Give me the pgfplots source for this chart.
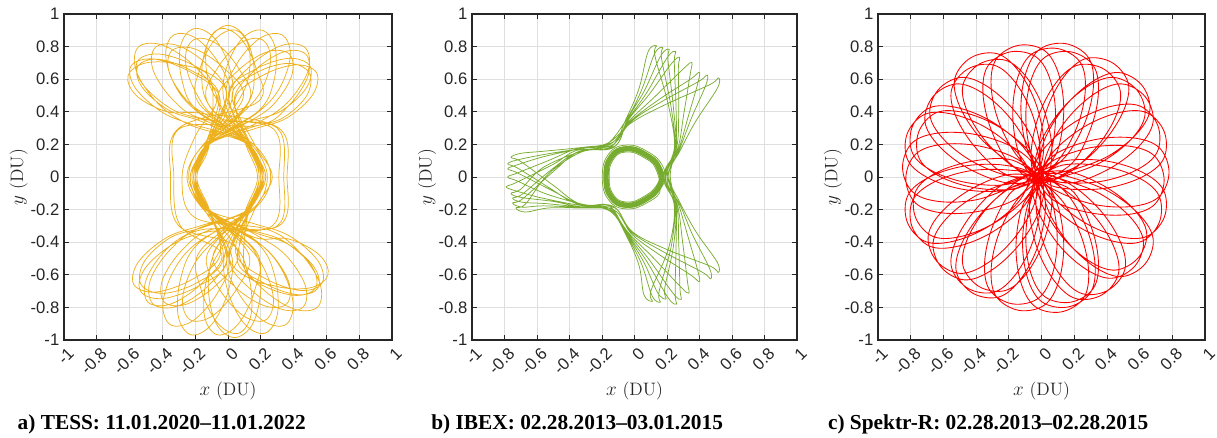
\documentclass[border=0pt]{standalone}
\usepackage{fontspec}
\usepackage{pgfplots}
\pgfplotsset{compat=1.18}
\newfontfamily\tickfont{Liberation Sans}
\newfontfamily\capfont{Liberation Serif}
\definecolor{axgray}{HTML}{262626}
\definecolor{gridgray}{HTML}{DFDFDF}
\definecolor{tessc}{HTML}{EDB120}
\definecolor{ibexc}{HTML}{77AC30}
\definecolor{spekc}{HTML}{FF0000}
\pgfplotsset{
  orbitaxis/.style={
    scale only axis, width=246pt, height=244.5pt,
    xmin=-1, xmax=1, ymin=-1, ymax=1,
    xtick={-1,-0.8,-0.6,-0.4,-0.2,0,0.2,0.4,0.6,0.8,1},
    ytick={-1,-0.8,-0.6,-0.4,-0.2,0,0.2,0.4,0.6,0.8,1},
    xticklabels={-1,-0.8,-0.6,-0.4,-0.2,0,0.2,0.4,0.6,0.8,1},
    yticklabels={-1,-0.8,-0.6,-0.4,-0.2,0,0.2,0.4,0.6,0.8,1},
    grid=major, major grid style={gridgray, line width=0.5pt},
    axis line style={axgray, line width=0.8pt},
    major tick style={axgray, line width=0.6pt},
    major tick length=3.5pt, tick align=inside,
    tick label style={font=\fontsize{12.5}{15}\selectfont\tickfont, text=axgray},
    xticklabel style={xshift=2.2pt, rotate=45, anchor=north east},
    label style={font=\fontsize{13.5}{16}\selectfont, text=axgray},
    xlabel={$x$ (DU)}, ylabel={$y$ (DU)},
    xlabel style={at={(axis description cs:0.5,-0.155)}, anchor=center},
    ylabel style={at={(axis description cs:-0.138,0.5)}, anchor=center},
  },
  orbit/.style={line width=0.55pt, smooth, tension=0.6}
}
\begin{document}
\begin{tikzpicture}
\path[use as bounding box] (0,0) rectangle (912.75pt,-328.5pt);
% ---------------- a) TESS
\begin{axis}[orbitaxis, at={(48pt,-255pt)}, anchor=south west]
\addplot[tessc, orbit] coordinates {
(-0.156,0.306) (-0.381,0.385) (-0.561,0.540) (-0.592,0.680) (-0.455,0.724) (-0.231,0.645) (-0.050,0.490)
(-0.12,0.2) (-0.2,0) (-0.12,-0.2)
(0.154,-0.285) (0.372,-0.360) (0.547,-0.512) (0.574,-0.650) (0.441,-0.696) (0.222,-0.620) (0.048,-0.469)
(0.126,-0.2) (0.21,0) (0.126,0.2)
(0.043,0.476) (0.205,0.620) (0.410,0.688) (0.540,0.640) (0.516,0.504) (0.355,0.360) (0.149,0.292)
(-0.114,0.2) (-0.19,0) (-0.114,-0.2)
(-0.048,-0.479) (-0.222,-0.630) (-0.441,-0.706) (-0.574,-0.660) (-0.547,-0.522) (-0.372,-0.370) (-0.154,-0.295)
(0.144,-0.2) (0.24,0) (0.144,0.2)
(-0.057,0.337) (-0.238,0.456) (-0.357,0.637) (-0.344,0.774) (-0.207,0.787) (-0.026,0.668) (0.093,0.487)
(-0.132,0.2) (-0.22,0) (-0.132,-0.2)
(0.059,-0.329) (0.245,-0.453) (0.369,-0.639) (0.358,-0.778) (0.219,-0.789) (0.033,-0.665) (-0.091,-0.479)
(0.12,-0.2) (0.2,0) (0.12,0.2)
(-0.063,0.467) (0.056,0.648) (0.237,0.767) (0.374,0.754) (0.387,0.617) (0.268,0.436) (0.087,0.317)
(-0.126,0.2) (-0.21,0) (-0.126,-0.2)
(0.061,-0.469) (-0.063,-0.655) (-0.249,-0.779) (-0.388,-0.768) (-0.399,-0.629) (-0.275,-0.443) (-0.089,-0.319)
(0.3,-0.3) (0.34,0) (0.3,0.3)
(-0.055,0.361) (-0.195,0.516) (-0.260,0.716) (-0.210,0.842) (-0.076,0.822) (0.065,0.666) (0.129,0.467)
(-0.15,0.2) (-0.25,0) (-0.15,-0.2)
(0.058,-0.366) (0.205,-0.533) (0.277,-0.745) (0.23,-0.877) (0.093,-0.851) (-0.055,-0.683) (-0.126,-0.472)
(0.114,-0.2) (0.19,0) (0.114,0.2)
(-0.129,0.467) (-0.065,0.666) (0.076,0.822) (0.21,0.842) (0.260,0.716) (0.195,0.516) (0.055,0.361)
(-0.12,0.2) (-0.2,0) (-0.12,-0.2)
(0.126,-0.472) (0.055,-0.683) (-0.093,-0.851) (-0.23,-0.877) (-0.277,-0.745) (-0.205,-0.533) (-0.058,-0.366)
(0.132,-0.2) (0.22,0) (0.132,0.2)
(-0.024,0.405) (-0.120,0.591) (-0.130,0.801) (-0.050,0.910) (0.074,0.855) (0.170,0.669) (0.180,0.459)
(-0.3,0.3) (-0.35,0) (-0.3,-0.3)
(0.026,-0.412) (0.127,-0.615) (0.141,-0.843) (0.063,-0.959) (-0.063,-0.897) (-0.163,-0.693) (-0.178,-0.466)
(0.12,-0.2) (0.2,0) (0.12,0.2)
(-0.181,0.457) (-0.171,0.664) (-0.076,0.847) (0.048,0.901) (0.128,0.793) (0.119,0.586) (0.023,0.403)
(-0.114,0.2) (-0.19,0) (-0.114,-0.2)
(0.178,-0.467) (0.162,-0.698) (0.060,-0.905) (-0.066,-0.968) (-0.144,-0.851) (-0.128,-0.620) (-0.026,-0.413)
(0.126,-0.2) (0.21,0) (0.126,0.2)
(-0.113,0.435) (-0.16,0.64) (-0.113,0.845) (0.0,0.93) (0.113,0.845) (0.16,0.64) (0.113,0.435)
(-0.126,0.2) (-0.21,0) (-0.126,-0.2)
(0.153,-0.443) (0.2,-0.67) (0.153,-0.897) (0.04,-0.985) (-0.073,-0.897) (-0.12,-0.67) (-0.073,-0.443)
(0.114,-0.2) (0.19,0) (0.114,0.2)
(-0.156,0.338) (-0.360,0.409) (-0.523,0.550) (-0.550,0.680) (-0.423,0.722) (-0.220,0.651) (-0.056,0.510)
(-0.138,0.2) (-0.23,0) (-0.138,-0.2)
(0.156,-0.338) (0.360,-0.409) (0.523,-0.550) (0.550,-0.680) (0.423,-0.722) (0.220,-0.651) (0.056,-0.510)
(0.162,-0.2) (0.27,0) (0.162,0.2)
(0.024,0.499) (0.172,0.639) (0.367,0.697) (0.495,0.640) (0.481,0.501) (0.332,0.361) (0.138,0.303)
(-0.12,0.2) (-0.2,0) (-0.12,-0.2)
(-0.029,-0.502) (-0.190,-0.649) (-0.396,-0.714) (-0.530,-0.660) (-0.510,-0.518) (-0.350,-0.371) (-0.143,-0.306)
(0.12,-0.2) (0.2,0) (0.12,0.2)
(-0.228,0.318) (-0.426,0.450) (-0.559,0.649) (-0.547,0.797) (-0.399,0.809) (-0.200,0.676) (-0.068,0.478)
(-0.2,0.25) (-0.28,0) (-0.2,-0.25)
(0.228,-0.318) (0.426,-0.450) (0.559,-0.649) (0.547,-0.797) (0.399,-0.809) (0.200,-0.676) (0.068,-0.478)
(0.132,-0.2) (0.22,0) (0.132,0.2)
(0.006,0.486) (0.133,0.679) (0.327,0.807) (0.472,0.792) (0.487,0.647) (0.359,0.453) (0.166,0.326)
(-0.126,0.2) (-0.21,0) (-0.126,-0.2)
(-0.004,-0.484) (-0.126,-0.672) (-0.314,-0.794) (-0.458,-0.778) (-0.474,-0.634) (-0.352,-0.446) (-0.164,-0.324)
(0.31,-0.3) (0.36,0) (0.31,0.3)
(-0.159,0.390) (-0.369,0.400) (-0.555,0.496) (-0.610,0.620) (-0.501,0.700) (-0.291,0.690) (-0.105,0.594)
(-0.114,0.2) (-0.19,0) (-0.114,-0.2)
(0.159,-0.370) (0.369,-0.380) (0.555,-0.476) (0.610,-0.600) (0.501,-0.680) (0.291,-0.670) (0.105,-0.574)
(0.126,-0.2) (0.21,0) (0.126,0.2)
(-0.116,0.336) (-0.341,0.415) (-0.521,0.570) (-0.552,0.710) (-0.415,0.754) (-0.191,0.675) (-0.010,0.520)
(-0.138,0.2) (-0.23,0) (-0.138,-0.2)
(0.114,-0.315) (0.332,-0.390) (0.507,-0.542) (0.534,-0.680) (0.401,-0.726) (0.182,-0.650) (0.008,-0.499)
(0.108,-0.2) (0.18,0) (0.108,0.2)
(0.003,0.516) (0.165,0.660) (0.370,0.728) (0.500,0.680) (0.476,0.544) (0.315,0.400) (0.109,0.332)
(-0.12,0.2) (-0.2,0) (-0.12,-0.2)
(-0.008,-0.519) (-0.182,-0.670) (-0.401,-0.746) (-0.534,-0.700) (-0.507,-0.562) (-0.332,-0.410) (-0.114,-0.335)
(0.27,-0.3) (0.31,0) (0.27,0.3)
(-0.157,0.357) (-0.338,0.476) (-0.457,0.657) (-0.444,0.794) (-0.307,0.807) (-0.126,0.688) (-0.007,0.507)
(-0.114,0.2) (-0.19,0) (-0.114,-0.2)
(0.159,-0.349) (0.345,-0.473) (0.469,-0.659) (0.458,-0.798) (0.319,-0.809) (0.133,-0.685) (0.009,-0.499)
(0.138,-0.2) (0.23,0) (0.138,0.2)
(0.037,0.467) (0.156,0.648) (0.337,0.767) (0.474,0.754) (0.487,0.617) (0.368,0.436) (0.187,0.317)
(-0.29,0.3) (-0.33,0) (-0.29,-0.3)
(-0.039,-0.469) (-0.163,-0.655) (-0.349,-0.779) (-0.488,-0.768) (-0.499,-0.629) (-0.375,-0.443) (-0.189,-0.319)
(0.12,-0.2) (0.2,0) (0.12,0.2)
(-0.175,0.391) (-0.315,0.546) (-0.380,0.746) (-0.330,0.872) (-0.196,0.852) (-0.055,0.696) (0.009,0.497)
(-0.126,0.2) (-0.21,0) (-0.126,-0.2)
(0.178,-0.396) (0.325,-0.563) (0.397,-0.775) (0.35,-0.907) (0.213,-0.881) (0.065,-0.713) (-0.006,-0.502)
(0.132,-0.2) (0.22,0) (0.132,0.2)
(-0.009,0.497) (0.055,0.696) (0.196,0.852) (0.33,0.872) (0.380,0.746) (0.315,0.546) (0.175,0.391)
(-0.12,0.2) (-0.2,0) (-0.12,-0.2)
(0.006,-0.502) (-0.065,-0.713) (-0.213,-0.881) (-0.35,-0.907) (-0.397,-0.775) (-0.325,-0.563) (-0.178,-0.396)
(0.156,-0.2) (0.26,0) (0.156,0.2)
(-0.184,0.405) (-0.280,0.591) (-0.290,0.801) (-0.210,0.910) (-0.086,0.855) (0.010,0.669) (0.020,0.459)
(-0.12,0.2) (-0.2,0) (-0.12,-0.2)
(0.186,-0.412) (0.287,-0.615) (0.301,-0.843) (0.223,-0.959) (0.097,-0.897) (-0.003,-0.693) (-0.018,-0.466)
(0.114,-0.2) (0.19,0) (0.114,0.2)
(-0.021,0.457) (-0.011,0.664) (0.084,0.847) (0.208,0.901) (0.288,0.793) (0.279,0.586) (0.183,0.403)
(-0.144,0.2) (-0.24,0) (-0.144,-0.2)
(0.018,-0.467) (0.002,-0.698) (-0.100,-0.905) (-0.226,-0.968) (-0.304,-0.851) (-0.288,-0.620) (-0.186,-0.413)
(0.126,-0.2) (0.21,0) (0.126,0.2)
(-0.156,0.306)
};
\end{axis}
% ---------------- b) IBEX
\begin{axis}[orbitaxis, at={(354pt,-255pt)}, anchor=south west, width=243.75pt]
\addplot[ibexc, line width=4pt, smooth, tension=0.6] coordinates {
(0.169,0) (0.134,0.086) (0.065,0.139) (-0.015,0.172) (-0.107,0.159) (-0.164,0.086) (-0.175,0) (-0.164,-0.086) (-0.107,-0.159) (-0.015,-0.172) (0.065,-0.139) (0.134,-0.086) (0.169,0) (0.134,0.086)
};
\addplot[ibexc, orbit] coordinates {
(0.149,0) (0.117,0.076) (0.055,0.121) (-0.015,0.152) (-0.097,0.142) (-0.147,0.076) (-0.155,0) (-0.147,-0.076) (-0.097,-0.142) (-0.015,-0.152) (0.055,-0.121) (0.117,-0.076)
(0.160,0.004) (0.126,0.082) (0.060,0.130) (-0.015,0.162) (-0.102,0.150) (-0.156,0.081) (-0.165,0) (-0.156,-0.081) (-0.102,-0.150) (-0.015,-0.162) (0.060,-0.130) (0.126,-0.081)
(0.180,0) (0.144,0.092) (0.071,0.148) (-0.015,0.184) (-0.113,0.170) (-0.174,0.092) (-0.187,0) (-0.174,-0.092) (-0.113,-0.170) (-0.015,-0.184) (0.071,-0.148) (0.144,-0.092)
(0.192,0) (0.154,0.098) (0.077,0.158) (-0.015,0.195) (-0.119,0.179) (-0.184,0.098) (-0.198,0) (-0.184,-0.098) (-0.119,-0.179) (-0.015,-0.195) (0.077,-0.158) (0.154,-0.098)
(0.149,0)
};
\addplot[ibexc, orbit] coordinates {
(-0.14,-0.19)
(-0.33,-0.19) (-0.53,-0.19) (-0.67,-0.215) (-0.73,-0.19) (-0.67,-0.165) (-0.53,0.019) (-0.33,0.152)
(-0.14,0.19)
(-0.051,0.359) (0.028,0.544) (0.083,0.767) (0.135,0.805) (0.126,0.742) (0.209,0.439) (0.246,0.187)
(0.19,0)
(0.246,-0.187) (0.209,-0.439) (0.101,-0.698) (0.110,-0.762) (0.058,-0.723) (0.028,-0.544) (-0.051,-0.359)
(-0.15,-0.21)
(-0.35,-0.159) (-0.50,-0.051) (-0.70,0.095) (-0.76,0.12) (-0.70,0.145) (-0.56,0.158) (-0.31,0.183)
(-0.16,0.21)
(-0.013,0.337) (0.196,0.447) (0.466,0.568) (0.517,0.608) (0.509,0.543) (0.377,0.342) (0.283,0.166)
(0.21,0.01)
(0.284,-0.165) (0.381,-0.340) (0.508,-0.521) (0.516,-0.585) (0.464,-0.546) (0.200,-0.445) (-0.012,-0.337)
(-0.13,-0.18)
(-0.31,-0.177) (-0.56,-0.131) (-0.73,-0.085) (-0.79,-0.06) (-0.73,-0.035) (-0.50,0.078) (-0.35,0.165)
(-0.13,0.18)
(-0.037,0.351) (0.091,0.508) (0.227,0.695) (0.278,0.734) (0.270,0.670) (0.272,0.403) (0.259,0.179)
(0.18,-0.01)
(0.259,-0.179) (0.272,-0.403) (0.280,-0.688) (0.288,-0.751) (0.237,-0.713) (0.091,-0.508) (-0.037,-0.351)
(-0.16,-0.20)
(-0.34,-0.166) (-0.51,-0.082) (-0.72,0.025) (-0.78,0.05) (-0.72,0.075) (-0.55,0.127) (-0.32,0.176)
(-0.15,0.20)
(-0.024,0.343) (0.149,0.474) (0.347,0.602) (0.398,0.642) (0.390,0.577) (0.330,0.369) (0.272,0.172)
(0.20,0.02)
(0.272,-0.172) (0.330,-0.369) (0.390,-0.577) (0.398,-0.642) (0.347,-0.602) (0.149,-0.474) (-0.024,-0.343)
(-0.12,-0.19)
(-0.32,-0.184) (-0.55,-0.163) (-0.69,-0.155) (-0.75,-0.13) (-0.69,-0.105) (-0.51,0.046) (-0.34,0.158)
(-0.12,0.19)
(-0.044,0.355) (0.059,0.526) (0.162,0.744) (0.214,0.783) (0.206,0.719) (0.240,0.421) (0.252,0.183)
(0.19,-0.02)
(0.252,-0.183) (0.240,-0.421) (0.186,-0.684) (0.194,-0.748) (0.142,-0.709) (0.059,-0.526) (-0.044,-0.355)
(-0.14,-0.21)
(-0.36,-0.163) (-0.52,-0.069) (-0.72,0.055) (-0.78,0.08) (-0.72,0.105) (-0.54,0.141) (-0.30,0.179)
(-0.17,0.20)
(-0.047,0.357) (0.044,0.535) (0.123,0.755) (0.174,0.794) (0.166,0.730) (0.225,0.430) (0.249,0.185)
(0.21,0)
(0.249,-0.185) (0.225,-0.430) (0.151,-0.704) (0.159,-0.768) (0.108,-0.729) (0.044,-0.535) (-0.047,-0.357)
(-0.15,-0.18)
(-0.30,-0.171) (-0.54,-0.105) (-0.72,-0.025) (-0.78,0) (-0.72,0.025) (-0.52,0.105) (-0.36,0.171)
(-0.14,0.21)
(-0.030,0.347) (0.122,0.490) (0.301,0.664) (0.353,0.703) (0.344,0.638) (0.303,0.385) (0.266,0.175)
(0.18,0.01)
(0.278,-0.168) (0.357,-0.354) (0.461,-0.559) (0.469,-0.624) (0.417,-0.584) (0.176,-0.458) (-0.018,-0.340)
(-0.13,-0.20)
(-0.345,-0.181) (-0.50,-0.150) (-0.70,-0.125) (-0.76,-0.10) (-0.70,-0.075) (-0.56,0.060) (-0.315,0.161)
(-0.15,0.18)
(-0.019,0.341) (0.168,0.463) (0.395,0.586) (0.447,0.625) (0.438,0.561) (0.349,0.358) (0.277,0.169)
(0.20,-0.01)
(0.265,-0.176) (0.295,-0.390) (0.327,-0.649) (0.335,-0.713) (0.284,-0.674) (0.114,-0.494) (-0.032,-0.348)
(-0.16,-0.19)
(-0.315,-0.187) (-0.56,-0.177) (-0.69,-0.185) (-0.75,-0.16) (-0.69,-0.135) (-0.50,0.033) (-0.345,0.155)
(-0.13,0.20)
(-0.040,0.353) (0.075,0.517) (0.202,0.733) (0.254,0.771) (0.245,0.708) (0.256,0.412) (0.256,0.181)
(0.22,0.01)
(0.256,-0.181) (0.256,-0.412) (0.250,-0.716) (0.259,-0.780) (0.207,-0.741) (0.075,-0.517) (-0.040,-0.353)
(-0.14,-0.19)
};
\end{axis}
% ---------------- c) Spektr-R
\begin{axis}[orbitaxis, at={(658.5pt,-255pt)}, anchor=south west, width=245.25pt]
\addplot[spekc, orbit, line width=0.65pt] coordinates {
(-0.02,0.03) (0.10,0.15) (0.33,0.23) (0.56,0.24) (0.72,0.18) (0.78,0.03) (0.72,-0.12) (0.56,-0.18) (0.33,-0.17) (0.10,-0.09)
(0,0) (0.072,0.154) (0.261,0.308) (0.473,0.395) (0.645,0.394) (0.752,0.274) (0.747,0.112) (0.617,0.001) (0.397,-0.068) (0.154,-0.072)
(0.02,-0.02) (0.035,0.149) (0.159,0.358) (0.329,0.514) (0.491,0.571) (0.633,0.494) (0.683,0.341) (0.599,0.192) (0.417,0.052) (0.189,-0.035)
(0.03,0.01) (-0.014,0.174) (0.032,0.413) (0.138,0.617) (0.270,0.726) (0.43,0.703) (0.53,0.576) (0.502,0.407) (0.378,0.213) (0.194,0.054)
(0.01,0.03) (-0.087,0.169) (-0.126,0.410) (-0.096,0.638) (-0.009,0.785) (0.149,0.818) (0.287,0.733) (0.318,0.564) (0.268,0.340) (0.149,0.127)
(0,0.02) (0.097,0.159) (0.136,0.400) (0.106,0.628) (0.019,0.775) (-0.139,0.808) (-0.277,0.723) (-0.308,0.554) (-0.258,0.330) (-0.139,0.117)
(0.02,0) (0.064,0.164) (0.018,0.403) (-0.088,0.607) (-0.220,0.716) (-0.38,0.693) (-0.48,0.566) (-0.452,0.397) (-0.328,0.203) (-0.144,0.044)
(-0.02,0.02) (-0.035,0.189) (-0.159,0.398) (-0.329,0.554) (-0.491,0.611) (-0.633,0.534) (-0.683,0.381) (-0.599,0.232) (-0.417,0.092) (-0.189,0.005)
(-0.04,0.03) (-0.112,0.184) (-0.301,0.338) (-0.513,0.425) (-0.685,0.424) (-0.792,0.304) (-0.787,0.142) (-0.657,0.031) (-0.437,-0.038) (-0.194,-0.042)
(-0.05,0.06) (-0.17,0.18) (-0.40,0.26) (-0.63,0.27) (-0.79,0.21) (-0.85,0.06) (-0.79,-0.09) (-0.63,-0.15) (-0.40,-0.14) (-0.17,-0.06)
(-0.04,-0.03) (-0.112,-0.184) (-0.301,-0.338) (-0.513,-0.425) (-0.685,-0.424) (-0.792,-0.304) (-0.787,-0.142) (-0.657,-0.031) (-0.437,0.038) (-0.194,0.042)
(-0.03,0) (-0.045,-0.169) (-0.169,-0.378) (-0.339,-0.534) (-0.501,-0.591) (-0.643,-0.514) (-0.693,-0.361) (-0.609,-0.212) (-0.427,-0.072) (-0.199,0.015)
(-0.02,-0.02) (0.024,-0.184) (-0.022,-0.423) (-0.128,-0.627) (-0.260,-0.736) (-0.42,-0.713) (-0.52,-0.586) (-0.492,-0.417) (-0.368,-0.223) (-0.184,-0.064)
(0,-0.03) (0.097,-0.169) (0.136,-0.410) (0.106,-0.638) (0.019,-0.785) (-0.139,-0.818) (-0.277,-0.733) (-0.308,-0.564) (-0.258,-0.340) (-0.139,-0.127)
(0.02,-0.01) (-0.077,-0.149) (-0.116,-0.390) (-0.086,-0.618) (0.001,-0.765) (0.159,-0.798) (0.297,-0.713) (0.328,-0.544) (0.278,-0.320) (0.159,-0.107)
(0.01,0) (-0.034,-0.164) (0.012,-0.403) (0.118,-0.607) (0.250,-0.716) (0.41,-0.693) (0.51,-0.566) (0.482,-0.397) (0.358,-0.203) (0.174,-0.044)
(-0.02,0.02) (-0.005,-0.149) (0.119,-0.358) (0.289,-0.514) (0.451,-0.571) (0.593,-0.494) (0.643,-0.341) (0.559,-0.192) (0.377,-0.052) (0.149,0.035)
(-0.03,0) (0.042,-0.154) (0.231,-0.308) (0.443,-0.395) (0.615,-0.394) (0.722,-0.274) (0.717,-0.112) (0.587,-0.001) (0.367,0.068) (0.124,0.072)
(-0.05,-0.02) (0.07,0.10) (0.30,0.18) (0.53,0.19) (0.69,0.13) (0.75,-0.02) (0.69,-0.17) (0.53,-0.23) (0.30,-0.22) (0.07,-0.14)
(-0.04,0.04) (0.032,0.194) (0.221,0.348) (0.433,0.435) (0.605,0.434) (0.712,0.314) (0.707,0.152) (0.577,0.041) (0.357,-0.028) (0.114,-0.032)
(-0.03,0.02) (-0.015,0.189) (0.109,0.398) (0.279,0.554) (0.441,0.611) (0.583,0.534) (0.633,0.381) (0.549,0.232) (0.367,0.092) (0.139,0.005)
(-0.02,-0.03) (-0.064,0.134) (-0.018,0.373) (0.088,0.577) (0.220,0.686) (0.38,0.663) (0.48,0.536) (0.452,0.367) (0.328,0.173) (0.144,0.014)
(-0.04,0) (-0.137,0.139) (-0.176,0.380) (-0.146,0.608) (-0.059,0.755) (0.099,0.788) (0.237,0.703) (0.268,0.534) (0.218,0.310) (0.099,0.097)
(-0.05,-0.02) (0.047,0.119) (0.086,0.360) (0.056,0.588) (-0.031,0.735) (-0.189,0.768) (-0.327,0.683) (-0.358,0.514) (-0.308,0.290) (-0.189,0.077)
(-0.03,0.04) (0.014,0.204) (-0.032,0.443) (-0.138,0.647) (-0.270,0.756) (-0.43,0.733) (-0.53,0.606) (-0.502,0.437) (-0.378,0.243) (-0.194,0.084)
(-0.05,-0.02) (-0.065,0.149) (-0.189,0.358) (-0.359,0.514) (-0.521,0.571) (-0.663,0.494) (-0.713,0.341) (-0.629,0.192) (-0.447,0.052) (-0.219,-0.035)
(-0.07,-0.01) (-0.142,0.144) (-0.331,0.298) (-0.543,0.385) (-0.715,0.384) (-0.822,0.264) (-0.817,0.102) (-0.687,-0.009) (-0.467,-0.078) (-0.224,-0.082)
(-0.03,-0.01) (-0.15,0.11) (-0.38,0.19) (-0.61,0.20) (-0.77,0.14) (-0.83,-0.01) (-0.77,-0.16) (-0.61,-0.22) (-0.38,-0.21) (-0.15,-0.13)
(-0.02,0.03) (-0.092,-0.124) (-0.281,-0.278) (-0.493,-0.365) (-0.665,-0.364) (-0.772,-0.244) (-0.767,-0.082) (-0.637,0.029) (-0.417,0.098) (-0.174,0.102)
(0,-0.04) (-0.015,-0.209) (-0.139,-0.418) (-0.309,-0.574) (-0.471,-0.631) (-0.613,-0.554) (-0.663,-0.401) (-0.579,-0.252) (-0.397,-0.112) (-0.169,-0.025)
(0.02,0.02) (0.064,-0.144) (0.018,-0.383) (-0.088,-0.587) (-0.220,-0.696) (-0.38,-0.673) (-0.48,-0.546) (-0.452,-0.377) (-0.328,-0.183) (-0.144,-0.024)
(-0.04,0.01) (0.057,-0.129) (0.096,-0.370) (0.066,-0.598) (-0.021,-0.745) (-0.179,-0.778) (-0.317,-0.693) (-0.348,-0.524) (-0.298,-0.300) (-0.179,-0.087)
(-0.02,-0.04) (-0.117,-0.179) (-0.156,-0.420) (-0.126,-0.648) (-0.039,-0.795) (0.119,-0.828) (0.257,-0.743) (0.288,-0.574) (0.238,-0.350) (0.119,-0.137)
(-0.03,-0.03) (-0.074,-0.194) (-0.028,-0.433) (0.078,-0.637) (0.210,-0.746) (0.37,-0.723) (0.47,-0.596) (0.442,-0.427) (0.318,-0.233) (0.134,-0.074)
(0.02,-0.02) (0.035,-0.189) (0.159,-0.398) (0.329,-0.554) (0.491,-0.611) (0.633,-0.534) (0.683,-0.381) (0.599,-0.232) (0.417,-0.092) (0.189,-0.005)
(0,0.03) (0.072,-0.124) (0.261,-0.278) (0.473,-0.365) (0.645,-0.364) (0.752,-0.244) (0.747,-0.082) (0.617,0.029) (0.397,0.098) (0.154,0.102)
(0,0.05) (0.015,0.219) (0.139,0.428) (0.309,0.584) (0.471,0.641) (0.613,0.564) (0.663,0.411) (0.579,0.262) (0.397,0.122) (0.169,0.035)
(0.04,-0.02) (-0.057,0.119) (-0.096,0.360) (-0.066,0.588) (0.021,0.735) (0.179,0.768) (0.317,0.683) (0.348,0.514) (0.298,0.290) (0.179,0.077)
(-0.05,-0.03) (-0.006,0.134) (-0.052,0.373) (-0.158,0.577) (-0.290,0.686) (-0.45,0.663) (-0.55,0.536) (-0.522,0.367) (-0.398,0.173) (-0.214,0.014)
(0,0) (-0.072,0.154) (-0.261,0.308) (-0.473,0.395) (-0.645,0.394) (-0.752,0.274) (-0.747,0.112) (-0.617,0.001) (-0.397,-0.068) (-0.154,-0.072)
(-0.07,0) (-0.142,-0.154) (-0.331,-0.308) (-0.543,-0.395) (-0.715,-0.394) (-0.822,-0.274) (-0.817,-0.112) (-0.687,-0.001) (-0.467,0.068) (-0.224,0.072)
(-0.05,0.01) (-0.006,-0.154) (-0.052,-0.393) (-0.158,-0.597) (-0.290,-0.706) (-0.45,-0.683) (-0.55,-0.556) (-0.522,-0.387) (-0.398,-0.193) (-0.214,-0.034)
(0.04,0.02) (-0.057,-0.119) (-0.096,-0.360) (-0.066,-0.588) (0.021,-0.735) (0.179,-0.768) (0.317,-0.683) (0.348,-0.514) (0.298,-0.290) (0.179,-0.077)
(-0.04,-0.03) (-0.025,-0.199) (0.099,-0.408) (0.269,-0.564) (0.431,-0.621) (0.573,-0.544) (0.623,-0.391) (0.539,-0.242) (0.357,-0.102) (0.129,-0.015)
(-0.02,0.03)
};
\end{axis}
\node[anchor=base west, font=\fontsize{16}{19}\selectfont\capfont\bfseries] at (9.75pt,-321.75pt) {a) TESS: 11.01.2020–11.01.2022};
\node[anchor=base west, font=\fontsize{16}{19}\selectfont\capfont\bfseries] at (320pt,-321.75pt) {b) IBEX: 02.28.2013–03.01.2015};
\node[anchor=base west, font=\fontsize{16}{19}\selectfont\capfont\bfseries] at (617.5pt,-321.75pt) {c) Spektr-R: 02.28.2013–02.28.2015};
\end{tikzpicture}
\end{document}
